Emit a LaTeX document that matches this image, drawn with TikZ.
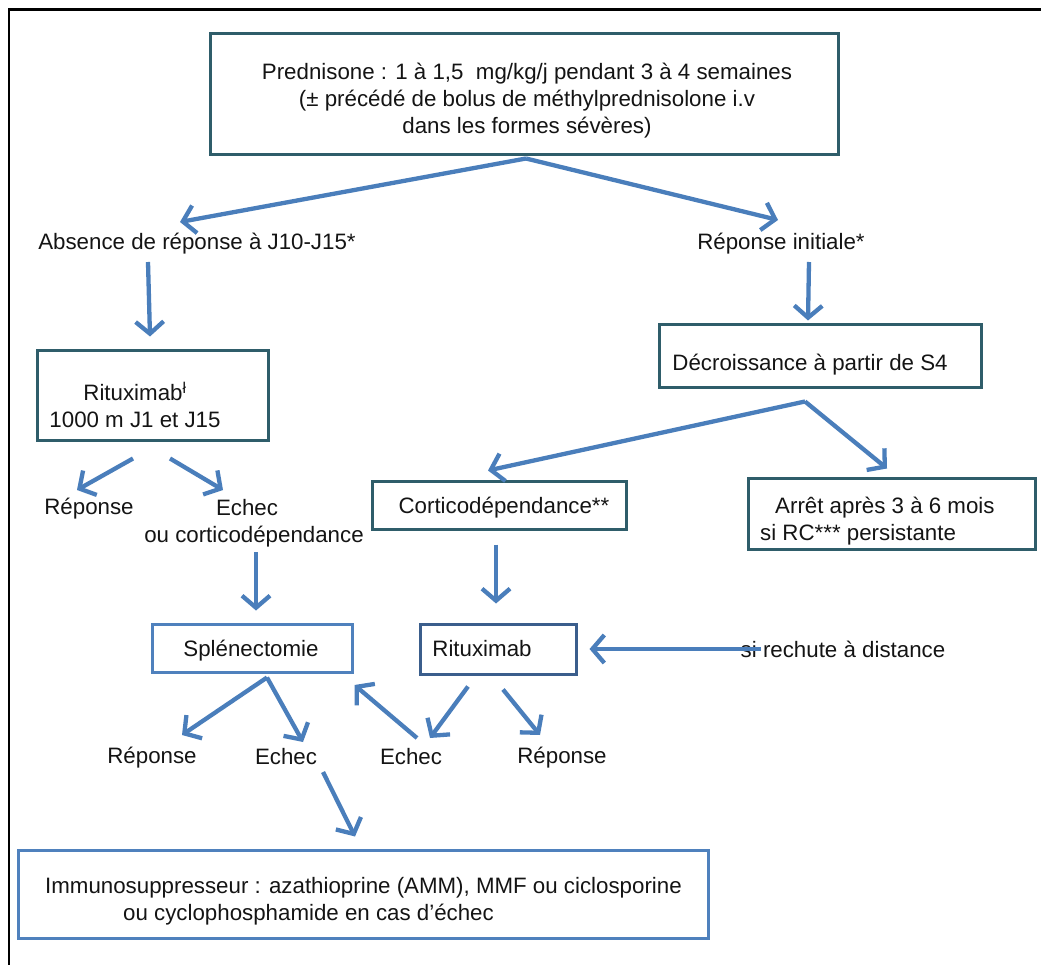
\documentclass[tikz,border=0pt]{standalone}
\usepackage{fontspec}
\setmainfont{Liberation Sans}
\usetikzlibrary{arrows.meta,calc}
\definecolor{boxteal}{HTML}{2F5D6A}
\definecolor{boxblue}{HTML}{4F81BD}
\definecolor{boxnavy}{HTML}{3B5E8C}
\definecolor{arrblue}{HTML}{4A7EBB}
\definecolor{txt}{HTML}{141414}
\tikzset{
  every node/.style={font=\fontsize{22.3}{27}\selectfont, text=txt},
  tbox/.style={draw=boxteal, line width=3pt, inner sep=0pt},
  lbox/.style={draw=boxblue, line width=3pt, inner sep=0pt},
  nbox/.style={draw=boxnavy, line width=3pt, inner sep=0pt},
  lbl/.style={inner sep=0pt},
  arr/.style={draw=arrblue, line width=4.3pt, -{Straight Barb[length=12pt,width=28pt]}},
}
\begin{document}
\begin{tikzpicture}[x=1pt,y=-1pt]
\useasboundingbox (0,0) rectangle (1041,965);
% outer frame
\draw[black, line width=2.6pt] (9,965) -- (9,9.5) -- (1041,9.5);

% boxes
\node[tbox, minimum width=628pt, minimum height=121pt] (top) at (524,94.5) {};
\node[lbl, align=center] (toptxt) at (527,101) {Prednisone : 1 à 1,5 \ mg/kg/j pendant 3 à 4 semaines\\(± précédé de bolus de méthylprednisolone i.v\\dans les formes sévères)};

\node[tbox, minimum width=231pt, minimum height=89pt] (rit1) at (152.5,395.5) {};
\node[lbl, align=center] (rit1txt) at (135,405) {Rituximab\textsuperscript{ł}\\1000 m J1 et J15};

\node[tbox, minimum width=322pt, minimum height=62pt] (dec) at (820,356) {};
\node[lbl] (dectxt) at (810,365) {Décroissance à partir de S4};

\node[tbox, minimum width=254pt, minimum height=48pt] (cort) at (499,505) {};
\node[lbl] (corttxt) at (504,508) {Corticodépendance**};

\node[tbox, minimum width=287pt, minimum height=71pt] (arret) at (891.5,513.5) {};
\node[lbl, align=left, anchor=west] (arrettxt) at (760,521) {\hspace*{15pt}Arrêt après 3 à 6 mois\\si RC*** persistante};

\node[lbox, minimum width=200pt, minimum height=48pt] (sple) at (252,648) {};
\node[lbl] (spletxt) at (251,651) {Splénectomie};

\node[nbox, minimum width=156pt, minimum height=50pt] (rit2) at (498,649) {};
\node[lbl] (rit2txt) at (482,649) {Rituximab};

\node[lbox, minimum width=690pt, minimum height=88pt] (bot) at (363,894) {};
\node[lbl, align=left, anchor=west] (bottxt) at (45,901) {Immunosuppresseur : azathioprine (AMM), MMF ou ciclosporine\\\hspace*{78pt}ou cyclophosphamide en cas d’échec};

% free labels
\node[lbl] (absn) at (197,244) {Absence de réponse à J10-J15*};
\node[lbl] (repi) at (781,244) {Réponse initiale*};
\node[lbl] (rep1) at (89,509) {Réponse};
\node[lbl, align=center] (ech1) at (254,523) {Echec\hspace*{14pt}\\ou corticodépendance};
\node[lbl] (rep2) at (152,758) {Réponse};
\node[lbl] (ech2) at (286,757) {Echec};
\node[lbl] (ech3) at (411,757) {Echec};
\node[lbl] (rep3) at (562,758) {Réponse};
\node[lbl] (sirech) at (843,649) {si rechute à distance};

% connectors
\draw[arr] ($(top.south)+(2,2)$) -- ($(absn)+(-17,-22)$);
\draw[arr] ($(top.south)+(2,2)$) -- ($(repi)+(-3,-24)$);
\draw[arr] ($(absn)+(-49,18)$) -- ($(rit1.north)+(-2.5,-13)$);
\draw[arr] ($(repi)+(28,18)$) -- ($(dec.north)+(-12,-3)$);
\draw[arr] ($(dec.south)+(-15,13)$) -- ($(cort.north)+(-11,-9)$);
\draw[arr] ($(dec.south)+(-15,13)$) -- ($(arret.north)+(-4.5,-8)$);
\draw[arr] ($(rit1.south)+(-19.5,17)$) -- ($(rep1)+(-12,-19)$);
\draw[arr] ($(rit1.south)+(17.5,17)$) -- ($(ech1)+(-31,-33)$);
\draw[arr] ($(ech1)+(2,29)$) -- ($(sple.north)+(4,-12)$);
\draw[arr] ($(cort.south)+(-3,14)$) -- ($(rit2.north)+(-2,-19)$);
\draw[arr] ($(sirech.west)+(20,0)$) -- ($(rit2.east)+(12,0)$);
\draw[arr] ($(sple.south)+(15,4)$) -- ($(rep2)+(30,-23)$);
\draw[arr] ($(sple.south)+(15,4)$) -- ($(ech2)+(17,-15)$);
\draw[arr] ($(ech3)+(6,-19)$) -- ($(sple.east)+(1,37)$);
\draw[arr] ($(rit2.south)+(-30,11)$) -- ($(ech3)+(19,-19)$);
\draw[arr] ($(rit2.south)+(5,14)$) -- ($(rep3)+(-22,-23)$);
\draw[arr] ($(ech2)+(37,15)$) -- ($(bot.north)+(-8,-12)$);
\end{tikzpicture}
\end{document}
